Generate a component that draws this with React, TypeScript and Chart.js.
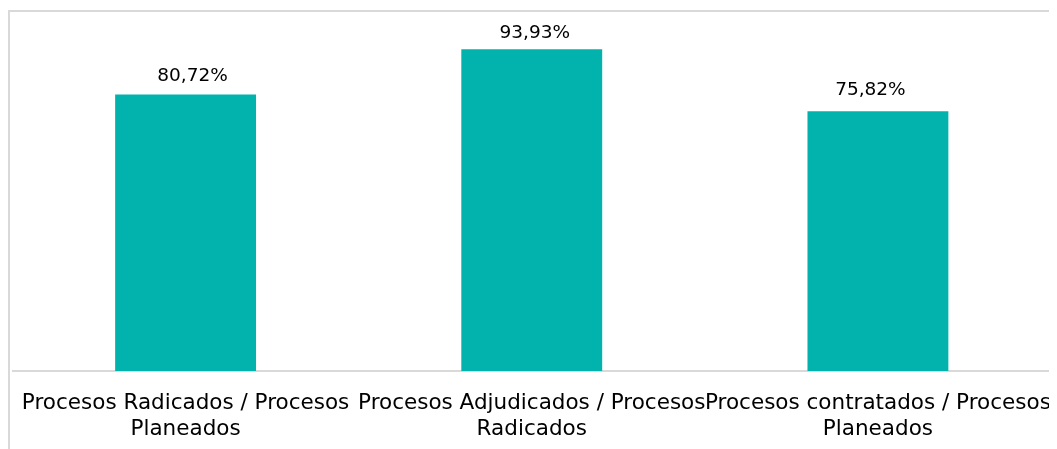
import React, { useEffect, useRef } from "react";
import { Chart, registerables } from "chart.js";

Chart.register(...registerables);

const categories: string[][] = [
  ["Procesos Radicados / Procesos", "Planeados"],
  ["Procesos Adjudicados / Procesos", "Radicados"],
  ["Procesos contratados / Procesos", "Planeados"],
];
const values: number[] = [80.72, 93.93, 75.82];
const valueLabels: string[] = ["80,72%", "93,93%", "75,82%"];

const FONT = "'DejaVu Sans', sans-serif";
const BAR_COLOR = "#02B3AD";
const FRAME_COLOR = "#D9D9D9";
// manual placement of the data labels (pixel nudges, as in the source chart)
const LABEL_NUDGE_X = [7, 3, -7.5];
const LABEL_GAP_Y = [14, 11, 16.5];

const framePlugin = {
  id: "frame",
  beforeDraw(chart: any) {
    const { ctx } = chart;
    ctx.save();
    ctx.strokeStyle = FRAME_COLOR;
    ctx.lineWidth = 2;
    ctx.beginPath();
    ctx.moveTo(1, chart.height + 5);
    ctx.lineTo(1, 3);
    ctx.lineTo(chart.width + 5, 3);
    ctx.stroke();
    ctx.restore();
  },
};

const valueLabelPlugin = {
  id: "valueLabels",
  afterDatasetsDraw(chart: any) {
    const { ctx } = chart;
    const meta = chart.getDatasetMeta(0);
    ctx.save();
    ctx.font = `18.5px ${FONT}`;
    ctx.fillStyle = "#000000";
    ctx.textAlign = "center";
    ctx.textBaseline = "alphabetic";
    meta.data.forEach((bar: any, i: number) => {
      ctx.fillText(valueLabels[i], bar.x + LABEL_NUDGE_X[i], bar.y - LABEL_GAP_Y[i]);
    });
    ctx.restore();
  },
};

export default function App() {
  const ref = useRef<HTMLCanvasElement | null>(null);
  useEffect(() => {
    if (!ref.current) return;
    const chart = new Chart(ref.current, {
      type: "bar",
      data: {
        labels: categories,
        datasets: [
          {
            data: values,
            backgroundColor: BAR_COLOR,
            borderWidth: 0,
            categoryPercentage: 1,
            barPercentage: 0.407,
          },
        ],
      },
      options: {
        animation: false,
        responsive: true,
        maintainAspectRatio: false,
        layout: { padding: { left: 4.5, right: 6, top: 20.5, bottom: 0 } },
        plugins: {
          legend: { display: false },
          tooltip: { enabled: false },
        },
        scales: {
          x: {
            grid: { display: false, drawTicks: false },
            border: { display: true, color: FRAME_COLOR, width: 2 },
            ticks: {
              color: "#000000",
              font: { family: FONT, size: 21.5, lineHeight: 1.21 },
              padding: 19,
              maxRotation: 0,
              autoSkip: false,
            },
            afterFit(scale: any) {
              scale.height = 78;
              scale.paddingLeft = 0;
              scale.paddingRight = 0;
            },
          },
          y: {
            display: false,
            min: 0,
            max: 100,
          },
        },
      },
      plugins: [framePlugin, valueLabelPlugin],
    });
    return () => chart.destroy();
  }, []);
  return (
    <div style={{ width: 1049, height: 441, position: "relative" }}>
      <canvas ref={ref} />
    </div>
  );
}
